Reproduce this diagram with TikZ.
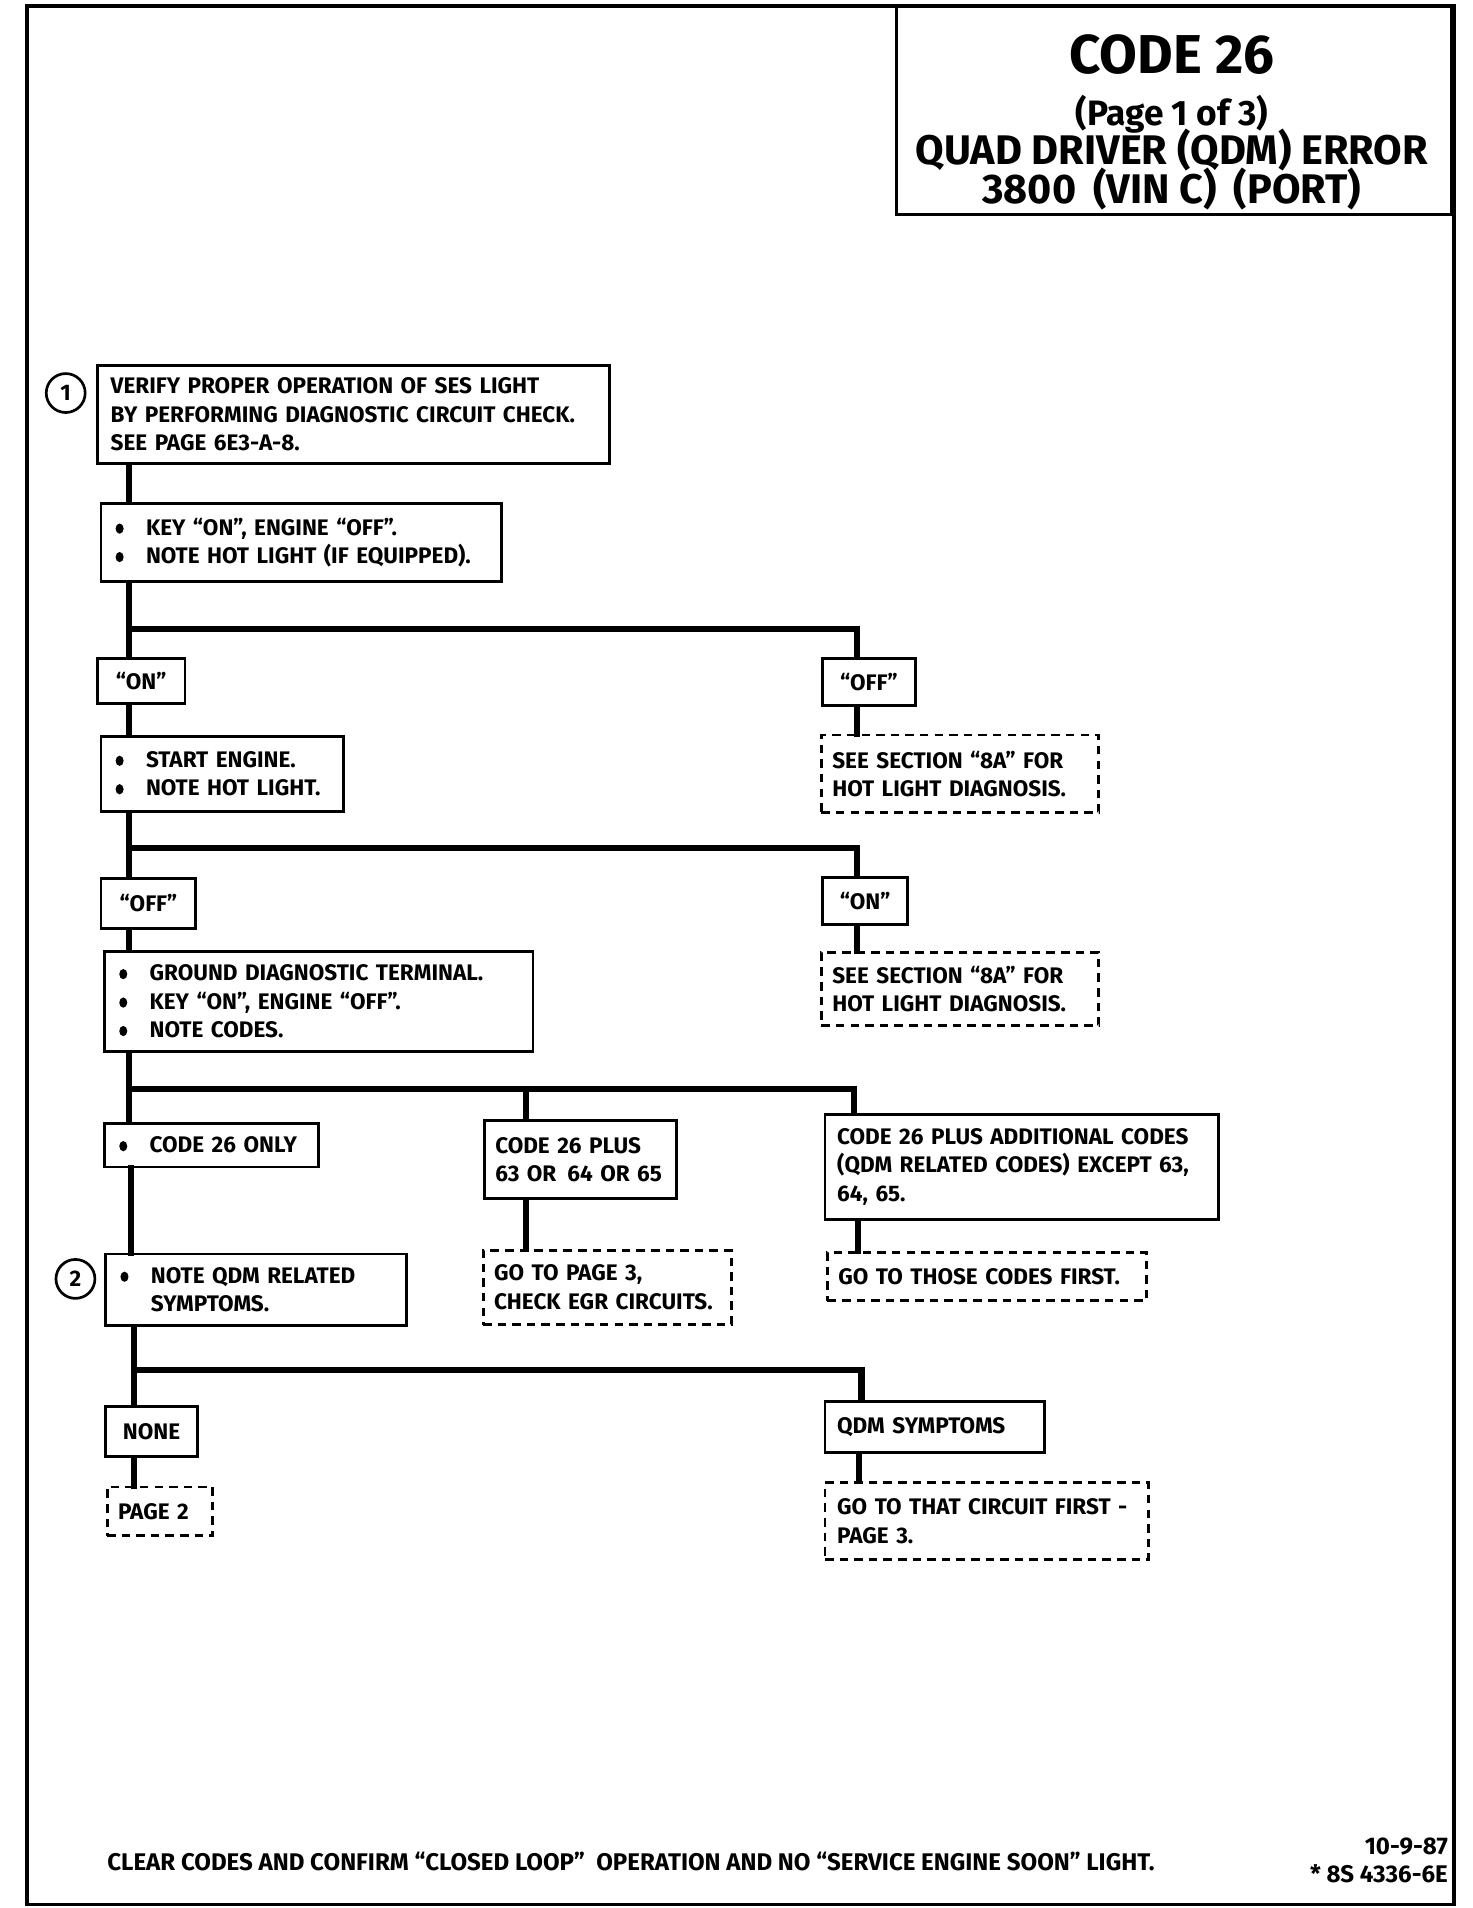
\documentclass[tikz,border=0pt]{standalone}
\usepackage{fontspec}
\setmainfont{Fira Sans}
\usetikzlibrary{calc}
\newcommand\bul{\makebox[27pt][l]{\hspace{2pt}\tikz[baseline=-5.5pt]\fill (0,0) ellipse (3.3pt and 4.2pt);}}
\tikzset{
  box/.style={draw, line width=2.4pt, inner xsep=10pt, inner ysep=3pt, align=left,
    font=\fontsize{18.5}{23.4}\selectfont\bfseries},
  dbox/.style={box, dash pattern=on 7pt off 5pt},
  lbl/.style={box, align=center, inner xsep=4pt},
  conn/.style={line width=5pt, line join=miter, line cap=rect},
  numc/.style={draw, circle, line width=2.2pt, minimum size=32pt, inner sep=0pt,
    font=\fontsize{18.5}{20}\selectfont\bfseries},
  ttl/.style={anchor=base, inner sep=0pt, font=\bfseries},
  foots/.style={inner sep=0pt, font=\fontsize{19.8}{21}\selectfont\bfseries},
}
\begin{document}
\begin{tikzpicture}[x=1pt,y=-1pt]
\useasboundingbox (0,0) rectangle (1210,1568);
\fill[white] (0,0) rectangle (1210,1568);
% frame
\draw[line width=3pt] (22,5) rectangle (1195,1565);
\node[draw, line width=2.4pt, minimum width=456pt, minimum height=171pt, inner sep=0pt] (title) at (965,90.5) {};
\node[ttl, font=\fontsize{45}{46}\selectfont\bfseries] (t1) at (963,60) {CODE 26};
\node[ttl, font=\fontsize{29}{30}\selectfont\bfseries] (t2) at (963,103) {(Page 1 of 3)};
\node[ttl, font=\fontsize{34}{36}\selectfont\bfseries] (t3) at (963,135) {QUAD DRIVER (QDM) ERROR};
\node[ttl, font=\fontsize{34}{36}\selectfont\bfseries] (t4) at (963,167) {3800\hspace{14pt}(VIN C)\hspace{14pt}(PORT)};

% boxes
\node[box, minimum width=421pt, minimum height=81pt, text width=399pt, inner xsep=11pt] (v1) at (290.5,340.5)
  {VERIFY PROPER OPERATION OF SES LIGHT\\BY PERFORMING DIAGNOSTIC CIRCUIT CHECK.\\SEE PAGE 6E3-A-8.};
\node[numc] (c1) at (54,323) {1};
\node[box, minimum width=329pt, minimum height=64pt, text width=309pt] (v2) at (247.5,446)
  {\bul KEY “ON”, ENGINE “OFF”.\\\bul NOTE HOT LIGHT (IF EQUIPPED).};
\node[lbl, minimum width=72pt, minimum height=37pt] (on1) at (116,559.5) {“ON”};
\node[lbl, minimum width=76pt, minimum height=39pt] (off1) at (714,560.5) {“OFF”};
\node[box, minimum width=199pt, minimum height=62pt, text width=179pt] (v3) at (182.5,636)
  {\bul START ENGINE.\\\bul NOTE HOT LIGHT.};
\node[dbox, minimum width=228pt, minimum height=64pt, text width=210pt, inner xsep=9pt] (dA) at (789,636)
  {SEE SECTION “8A” FOR\\HOT LIGHT DIAGNOSIS.};
\node[lbl, minimum width=78pt, minimum height=41pt] (off2) at (122,742.5) {“OFF”};
\node[lbl, minimum width=70pt, minimum height=39pt] (on2) at (711,740.5) {“ON”};
\node[box, minimum width=352pt, minimum height=82pt, text width=332pt] (v4) at (262,823)
  {\bul GROUND DIAGNOSTIC TERMINAL.\\\bul KEY “ON”, ENGINE “OFF”.\\\bul NOTE CODES.};
\node[dbox, minimum width=228pt, minimum height=60pt, text width=210pt, inner xsep=9pt] (dB) at (789,813)
  {SEE SECTION “8A” FOR\\HOT LIGHT DIAGNOSIS.};
\node[box, minimum width=176pt, minimum height=36pt, text width=156pt] (c26only) at (174,941)
  {\bul CODE 26 ONLY};
\node[box, minimum width=158pt, minimum height=64pt, text width=140pt, inner xsep=9pt] (c26plus) at (477,953)
  {CODE 26 PLUS\\\makebox[140pt][l]{63 OR\hspace{9pt}64 OR 65}};
\node[box, minimum width=323pt, minimum height=86pt, text width=303pt] (c26add) at (839.5,959)
  {CODE 26 PLUS ADDITIONAL CODES\\(QDM RELATED CODES) EXCEPT 63,\\64, 65.};
\node[box, minimum width=247pt, minimum height=59pt, text width=227pt] (noteq) at (210.5,1060)
  {\bul NOTE QDM RELATED\\\hspace*{27pt}SYMPTOMS.};
\node[numc] (c2) at (62,1051) {2};
\node[dbox, minimum width=204pt, minimum height=61pt, text width=186pt, inner xsep=9pt] (dEGR) at (499,1058)
  {GO TO PAGE 3,\\CHECK EGR CIRCUITS.};
\node[dbox, minimum width=262pt, minimum height=40pt, text width=244pt, inner xsep=9pt] (dThose) at (811,1049)
  {GO TO THOSE CODES FIRST.};
\node[lbl, minimum width=75pt, minimum height=41pt] (none) at (124.5,1176.5) {NONE};
\node[box, minimum width=180pt, minimum height=42pt, text width=160pt] (qdm) at (768,1173) {QDM SYMPTOMS};
\node[dbox, minimum width=87pt, minimum height=40pt, text width=69pt, inner xsep=9pt] (dP2) at (131.5,1242) {PAGE 2};
\node[dbox, minimum width=266pt, minimum height=63pt, text width=246pt] (dCirc) at (811,1250)
  {GO TO THAT CIRCUIT FIRST -\\PAGE 3.};

% split coordinates
\coordinate (tA) at (106,517); \coordinate (bA) at (704,517);
\coordinate (tB) at (106,697); \coordinate (bB) at (704,697);
\coordinate (tC) at (106,895); \coordinate (mC) at (432,895); \coordinate (bC) at (702,895);
\coordinate (tD) at (108,1000); \coordinate (bD) at (705,1000);
\coordinate (tE) at (110,1126); \coordinate (bE) at (708,1126); \coordinate (bF) at (706,1200);

% connectors
\draw[conn] (v1.south -| tA) -- (v2.north -| tA);
\draw[conn] (v2.south -| tA) -- (on1.north -| tA);
\draw[conn] (tA) -- (bA) -- (off1.north -| bA);
\draw[conn] (on1.south -| tA) -- (v3.north -| tA);
\draw[conn] (off1.south -| bA) -- (dA.north -| bA);
\draw[conn] (v3.south -| tB) -- (off2.north -| tB);
\draw[conn] (tB) -- (bB) -- (on2.north -| bB);
\draw[conn] (off2.south -| tB) -- (v4.north -| tB);
\draw[conn] (on2.south -| bB) -- (dB.north -| bB);
\draw[conn] (v4.south -| tC) -- (c26only.north -| tC);
\draw[conn] (tC) -- (bC) -- (c26add.north -| bC);
\draw[conn] (mC) -- (c26plus.north -| mC);
\draw[conn] (c26only.south -| tD) -- (noteq.north -| tD);
\draw[conn] (c26plus.south -| mC) -- (dEGR.north -| mC);
\draw[conn] (c26add.south -| bD) -- (dThose.north -| bD);
\draw[conn] (noteq.south -| tE) -- (none.north -| tE);
\draw[conn] (tE) -- (bE) -- (qdm.north -| bE);
\draw[conn] (none.south -| tE) -- (dP2.north -| tE);
\draw[conn] (qdm.south -| bF) -- (dCirc.north -| bF);

% footer
\node[foots, anchor=base west] (foot) at (88,1537)
  {CLEAR CODES AND CONFIRM “CLOSED LOOP”\ \ OPERATION AND NO “SERVICE ENGINE SOON” LIGHT.};
\node[foots, anchor=base east] (date) at (1190,1524) {10-9-87};
\node[foots, anchor=base east] (ref) at (1190,1547) {* 8S 4336-6E};
\end{tikzpicture}
\end{document}
